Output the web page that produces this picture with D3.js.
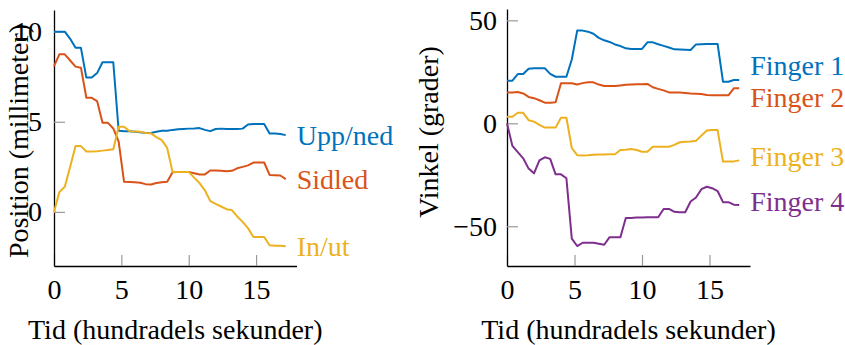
<!DOCTYPE html>
<html>
<head>
<meta charset="utf-8">
<script src="https://cdn.jsdelivr.net/npm/d3@7"></script>
<style>
  body { margin: 0; background: #fff; }
  text { font-family: "Liberation Serif", "DejaVu Serif", serif; }
</style>
</head>
<body>
<div id="chart"></div>
<script>
// time (hundredths of a second)
const tid = [0, 0.4, 0.8, 1.2, 1.6, 2.0, 2.4, 2.8, 3.2, 3.6, 4.0, 4.4, 4.8, 5.2, 5.6, 6.0, 6.4, 6.8, 7.2, 7.6,
  8.0, 8.4, 8.8, 9.2, 9.6, 10.0, 10.4, 10.8, 11.2, 11.6, 12.0, 12.4, 12.8, 13.2, 13.6, 14.0, 14.4, 14.8,
  15.2, 15.6, 16.0, 16.4, 16.8, 17.2];

// position, millimeter
const uppNed = [10.0, 10.0, 10.0, 9.6, 9.1, 9.1, 7.45, 7.45, 7.7, 8.3, 8.3, 8.3, 4.5, 4.48, 4.48, 4.45, 4.42, 4.38, 4.38, 4.45,
  4.5, 4.5, 4.55, 4.58, 4.6, 4.62, 4.63, 4.65, 4.55, 4.48, 4.6, 4.62, 4.6, 4.6, 4.6, 4.62, 4.85, 4.87,
  4.87, 4.87, 4.35, 4.35, 4.32, 4.26];
const sidled = [8.09, 8.74, 8.74, 8.4, 8.06, 8.0, 6.33, 6.33, 6.15, 4.94, 4.94, 4.63, 3.9, 1.67, 1.66, 1.64, 1.62, 1.54, 1.52, 1.6,
  1.64, 1.67, 2.2, 2.22, 2.22, 2.22, 2.15, 2.08, 2.08, 2.3, 2.3, 2.28, 2.26, 2.28, 2.42, 2.5, 2.58, 2.74,
  2.74, 2.74, 2.05, 2.04, 2.02, 1.82];
const inUt = [0.0, 1.1, 1.4, 2.5, 3.65, 3.65, 3.35, 3.35, 3.37, 3.4, 3.44, 3.48, 4.72, 4.72, 4.48, 4.46, 4.44, 4.38, 4.36, 4.15,
  3.98, 3.55, 2.22, 2.22, 2.22, 2.22, 1.9, 1.6, 1.2, 0.6, 0.45, 0.3, 0.15, 0.1, -0.25, -0.55, -0.9, -1.39,
  -1.39, -1.39, -1.85, -1.87, -1.88, -1.9];

// angle, degrees
const finger1 = [20.7, 20.7, 23.9, 23.9, 26.5, 26.7, 26.7, 26.7, 24, 22.6, 22.6, 22.6, 31, 45, 45, 44.5, 43.5, 41.5, 40.3, 39.5,
  38.3, 37.5, 36.4, 36.1, 36.1, 36.1, 39.3, 39.3, 38.4, 37.6, 36.8, 35.9, 35.8, 35.7, 35.6, 38.3, 38.4, 38.5,
  38.5, 38.5, 20.2, 20.2, 21, 21];
const finger2 = [14.9, 15, 15.2, 14.5, 12.8, 12.2, 11.2, 10, 10, 10.2, 19.4, 19.4, 19.4, 18.8, 19.5, 19.9, 19.9, 18.8, 18.1, 18.1,
  18.1, 18.4, 18.7, 18.8, 18.9, 19.0, 19.1, 17.5, 16.7, 16, 15, 15, 14.9, 14.7, 14.5, 14.4, 14.2, 13.7,
  13.6, 13.6, 13.6, 13.6, 17, 17];
const finger3 = [3.2, 3.2, 5.1, 5.1, 1.5, 0.8, -0.8, -2.1, -2.1, -2.1, 2.7, 2.7, -12, -15.5, -15.6, -15.5, -15.3, -15.2, -15.1, -15.0,
  -15, -13, -12.8, -12.5, -13, -13.8, -13.8, -11.4, -11.4, -11.4, -11.4, -10.5, -9.2, -9.0, -8.8, -8.5, -6, -3.5,
  -3.3, -3.3, -18.6, -18.6, -18.5, -18];
const finger4 = [0, -11, -14, -17, -22, -24.3, -18, -16.5, -17.3, -24.8, -24.8, -26.7, -56, -59.6, -58, -58, -58, -58.5, -59, -55.3,
  -55.3, -55.3, -46, -46, -45.8, -45.7, -45.6, -45.6, -45.6, -41.6, -41.6, -43, -43.2, -43.2, -38, -36, -32, -30.8,
  -31.5, -32.9, -38.3, -38.3, -39.5, -39.7];

const xTicks = [0, 5, 10, 15];
const posTicks = [0, 5, 10];
const angleTicks = [-50, 0, 50];

const blue = "#0072BD", red = "#D95319", yellow = "#EDB120", purple = "#7E2F8E";

const svg = d3.select("#chart").append("svg")
  .attr("width", 845).attr("height", 345);

const fontSize = 28;

const drawPanel = (cfg) => {
  const x = d3.scaleLinear().domain([0, 18]).range(cfg.xRange);
  const y = d3.scaleLinear().domain(cfg.yDomain).range(cfg.yRange);

  const xAxis = d3.axisBottom(x).tickValues(xTicks).tickSize(-11).tickSizeOuter(0).tickPadding(13);
  const yAxis = d3.axisLeft(y).tickValues(cfg.yTicks).tickSize(-11).tickSizeOuter(0).tickPadding(cfg.yPad);

  const gx = svg.append("g").attr("transform", `translate(0, ${cfg.yRange[0]})`).call(xAxis);
  const gy = svg.append("g").attr("transform", `translate(${cfg.xRange[0]}, 0)`).call(yAxis);

  [gx, gy].forEach(g => {
    g.select(".domain").attr("stroke", "#000").attr("stroke-width", 1.3);
    g.selectAll(".tick line").attr("stroke", "#999").attr("stroke-width", 1.2);
    g.selectAll(".tick text").attr("fill", "#000")
      .style("font-family", "'Liberation Serif', serif").style("font-size", fontSize + "px");
  });

  svg.append("text")
    .attr("x", (cfg.xRange[0] + cfg.xRange[1]) / 2)
    .attr("y", 339)
    .attr("text-anchor", "middle")
    .style("font-size", fontSize + "px")
    .text("Tid (hundradels sekunder)");

  svg.append("text")
    .attr("transform", `translate(${cfg.yLabelX}, ${cfg.yLabelY}) rotate(-90)`)
    .attr("text-anchor", "middle")
    .style("font-size", fontSize + "px")
    .text(cfg.yLabel);

  const line = d3.line()
    .x((d, i) => x(tid[i]))
    .y(d => y(d));

  cfg.series.forEach(s => {
    svg.append("path")
      .datum(s.values)
      .attr("fill", "none")
      .attr("stroke", s.color)
      .attr("stroke-width", 2)
      .attr("stroke-linejoin", "round")
      .attr("d", line);

    const last = s.values[s.values.length - 1];
    svg.append("text")
      .attr("x", x(tid[tid.length - 1]) + 11)
      .attr("y", y(last) + s.dy)
      .attr("dominant-baseline", "central")
      .attr("fill", s.color)
      .style("font-size", fontSize + "px")
      .text(s.name);
  });
};

drawPanel({
  xRange: [54, 296.5],
  yDomain: [-3.0, 11.2],
  yRange: [266, 10],
  yTicks: posTicks,
  yPad: 12,
  yLabel: "Position (millimeter)",
  yLabelX: 28,
  yLabelY: 141,
  series: [
    { name: "Upp/ned", values: uppNed, color: blue, dy: 0 },
    { name: "Sidled", values: sidled, color: red, dy: 0 },
    { name: "In/ut", values: inUt, color: yellow, dy: 0 }
  ]
});

drawPanel({
  xRange: [507, 750],
  yDomain: [-69.3, 55.5],
  yRange: [266, 9],
  yTicks: angleTicks,
  yPad: 10,
  yLabel: "Vinkel (grader)",
  yLabelX: 438,
  yLabelY: 132,
  series: [
    { name: "Finger 1", values: finger1, color: blue, dy: -15 },
    { name: "Finger 2", values: finger2, color: red, dy: 9 },
    { name: "Finger 3", values: finger3, color: yellow, dy: -4 },
    { name: "Finger 4", values: finger4, color: purple, dy: -4 }
  ]
});
</script>
</body>
</html>
